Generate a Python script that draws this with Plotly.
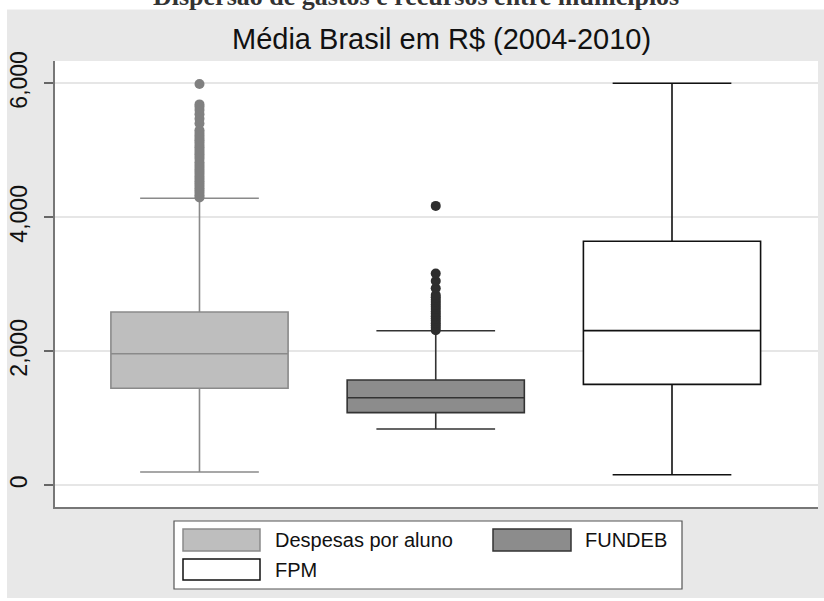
import plotly.graph_objects as go

# ---------------- data ----------------
series_names = ["Despesas por aluno", "FUNDEB", "FPM"]
positions = [0, 1, 2]
q1_vals = [1448, 1084, 1507]
median_vals = [1964, 1307, 2308]
q3_vals = [2587, 1572, 3642]
lower_fence = [198, 840, 158]
upper_fence = [4284, 2307, 6000]

despesas_outliers = [4295, 4330, 4365, 4400, 4435, 4470, 4505, 4540, 4575, 4610,
                     4645, 4680, 4715, 4750, 4785, 4820, 4870, 4905, 4940, 4975,
                     5010, 5045, 5080, 5115, 5150, 5185, 5220, 5260, 5300, 5400,
                     5470, 5540, 5600, 5650, 5685, 5990]
fundeb_outliers = [2315, 2350, 2385, 2420, 2455, 2490, 2525, 2560, 2595, 2630,
                   2665, 2700, 2735, 2770, 2805, 2840, 2940, 3050, 3160, 4170]

y_ticks = [0, 2000, 4000, 6000]
y_tick_labels = ["0", "2,000", "4,000", "6,000"]

title_text = "Média Brasil em R$ (2004-2010)"
top_title = "Dispersão de gastos e recursos entre municípios"

# ---------------- styles ----------------
fills = ["#bebebe", "#8c8c8c", "#ffffff"]
lines = ["#8a8a8a", "#333333", "#111111"]
out_colors = ["#808080", "#2e2e2e"]

W, H = 824, 601
L, R, T, B = 55, 818, 61, 507


def px(x):
    return (x - L) / (R - L)


def py(y):
    return (B - y) / (B - T)


fig = go.Figure()
for i in range(3):
    fig.add_trace(go.Box(
        x=[positions[i]], q1=[q1_vals[i]], median=[median_vals[i]], q3=[q3_vals[i]],
        lowerfence=[lower_fence[i]], upperfence=[upper_fence[i]],
        name=series_names[i], fillcolor=fills[i],
        line=dict(color=lines[i], width=1.6),
        width=0.75, whiskerwidth=0.67, boxpoints=False, showlegend=False,
    ))

fig.add_trace(go.Scatter(x=[positions[0]] * len(despesas_outliers), y=despesas_outliers,
                         mode="markers", marker=dict(size=10, color=out_colors[0]),
                         showlegend=False, hoverinfo="y"))
fig.add_trace(go.Scatter(x=[positions[1]] * len(fundeb_outliers), y=fundeb_outliers,
                         mode="markers", marker=dict(size=10, color=out_colors[1]),
                         showlegend=False, hoverinfo="y"))

shapes = [
    # white strips outside the grey panel
    dict(type="rect", xref="paper", yref="paper", x0=px(-5), x1=px(W + 5), y0=py(9.5), y1=py(-5),
         fillcolor="white", line=dict(width=0), layer="below"),
    dict(type="rect", xref="paper", yref="paper", x0=px(-5), x1=px(7), y0=py(H + 5), y1=py(-5),
         fillcolor="white", line=dict(width=0), layer="below"),
    dict(type="rect", xref="paper", yref="paper", x0=px(-5), x1=px(W + 5), y0=py(H + 5), y1=py(598),
         fillcolor="white", line=dict(width=0), layer="below"),
    # legend box
    dict(type="rect", xref="paper", yref="paper", x0=px(174), x1=px(682), y0=py(589), y1=py(521),
         fillcolor="white", line=dict(color="#555555", width=1.2), layer="below"),
    # swatches
    dict(type="rect", xref="paper", yref="paper", x0=px(183), x1=px(260), y0=py(551), y1=py(529),
         fillcolor=fills[0], line=dict(color=lines[0], width=1.5), layer="below"),
    dict(type="rect", xref="paper", yref="paper", x0=px(493), x1=px(571), y0=py(551), y1=py(529),
         fillcolor=fills[1], line=dict(color=lines[1], width=1.5), layer="below"),
    dict(type="rect", xref="paper", yref="paper", x0=px(183), x1=px(260), y0=py(580), y1=py(559),
         fillcolor=fills[2], line=dict(color=lines[2], width=1.5), layer="below"),
]

font_sans = "Liberation Sans, Arial, sans-serif"
annotations = [
    dict(text="<b>" + top_title + "</b>", xref="paper", yref="paper", x=px(416), y=py(12.6),
         xanchor="center", yanchor="bottom", showarrow=False,
         font=dict(family="Liberation Serif, Times New Roman, serif", size=26, color="#333333")),
    dict(text=title_text, xref="paper", yref="paper", x=px(441), y=py(57),
         xanchor="center", yanchor="bottom", showarrow=False,
         font=dict(family=font_sans, size=29, color="#111111")),
    dict(text=series_names[0], xref="paper", yref="paper", x=px(273), y=py(540),
         xanchor="left", yanchor="middle", showarrow=False,
         font=dict(family=font_sans, size=20, color="#111111")),
    dict(text=series_names[1], xref="paper", yref="paper", x=px(583), y=py(540),
         xanchor="left", yanchor="middle", showarrow=False,
         font=dict(family=font_sans, size=20, color="#111111")),
    dict(text=series_names[2], xref="paper", yref="paper", x=px(273), y=py(570),
         xanchor="left", yanchor="middle", showarrow=False,
         font=dict(family=font_sans, size=20, color="#111111")),
]

fig.update_layout(
    width=W, height=H,
    margin=dict(l=L, r=W - R, t=T, b=H - B, pad=0),
    paper_bgcolor="#e8e8e8", plot_bgcolor="white",
    boxmode="overlay", showlegend=False,
    shapes=shapes, annotations=annotations,
    font=dict(family=font_sans, color="#111111"),
)
fig.update_xaxes(range=[-0.6116, 2.618], showticklabels=False, ticks="", showgrid=False,
                 zeroline=False, showline=True, linecolor="#777777", linewidth=1.6)
fig.update_yaxes(range=[-324, 6333], tickmode="array", tickvals=y_ticks, ticktext=y_tick_labels,
                 tickangle=-90, ticks="outside", ticklen=9, tickwidth=1.5, tickcolor="#666666",
                 ticklabelstandoff=8,
                 tickfont=dict(family=font_sans, size=23, color="#111111"),
                 showgrid=True, gridcolor="#e6e6e6", gridwidth=1.6, zeroline=False,
                 showline=True, linecolor="#777777", linewidth=1.6)

fig.write_html("out.html", config={"displayModeBar": False},
               post_script="document.body.style.margin='0';document.body.style.overflow='hidden';")
